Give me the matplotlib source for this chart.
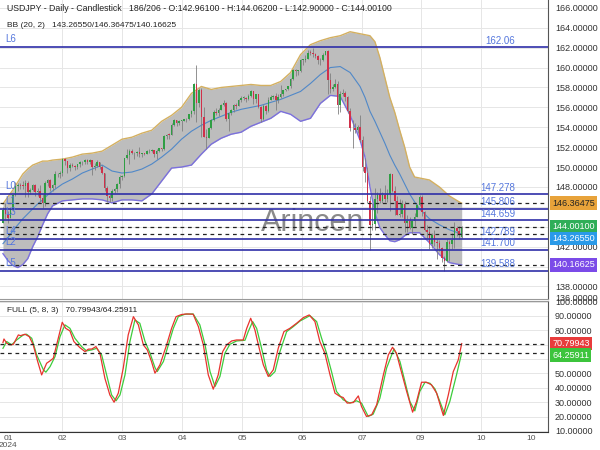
import matplotlib
matplotlib.use('Agg')
import matplotlib.pyplot as plt
from matplotlib.ticker import FuncFormatter

plt.rcParams['font.family'] = ['Liberation Sans', 'DejaVu Sans']

# daily candles, bar 0 is the first one on the chart
opens = [144.38, 145.73, 145.29, 144.91, 145.78, 147.18, 148.14, 148.15, 148.13, 148.11,
         148.37, 147.50, 147.67, 148.15, 147.46, 147.58, 146.92, 146.42, 148.37, 148.70,
         147.94, 148.18, 149.31, 149.28, 149.37, 150.80, 150.58, 149.93, 150.22, 150.12,
         150.02, 150.30, 150.50, 150.48, 150.67, 150.50, 150.68, 149.97, 150.10, 150.52,
         149.96, 149.38, 147.90, 147.06, 146.93, 147.64, 147.75, 148.33, 149.04, 149.14,
         150.87, 151.26, 151.62, 151.43, 151.40, 151.55, 151.33, 151.37, 151.35, 151.65,
         151.57, 151.69, 151.35, 151.62, 151.87, 151.77, 153.17, 153.27, 153.23, 154.23,
         154.69, 154.38, 154.63, 154.64, 154.83, 154.84, 155.34, 155.62, 158.33, 156.42,
         157.79, 155.02, 153.04, 152.95, 153.88, 154.69, 155.56, 155.48, 155.78, 156.21,
         156.44, 154.88, 155.40, 155.69, 156.28, 156.18, 156.78, 156.97, 156.98, 156.86,
         157.16, 157.62, 156.83, 157.30, 156.08, 154.81, 156.11, 155.62, 156.77, 157.03,
         157.12, 156.69, 157.03, 157.37, 157.72, 157.87, 158.10, 158.88, 159.78, 159.69,
         159.69, 160.78, 160.79, 160.88, 161.49, 161.47, 161.41, 161.20, 160.74, 160.81,
         161.29, 161.63, 158.80, 157.85, 158.06, 158.35, 156.20, 157.38, 157.47, 157.03,
         155.61, 153.90, 153.92, 153.77, 153.99, 152.71, 149.97, 149.38, 146.54, 144.19,
         144.31, 146.75, 147.27, 146.59, 147.19, 146.82, 147.31, 149.29, 147.63, 146.57,
         145.22, 145.27, 146.28, 144.38, 144.53, 143.90, 144.61, 144.98, 146.17, 146.95,
         145.46, 143.72, 143.43, 142.30, 143.13, 142.45, 142.37, 141.83, 140.84, 140.60,
         142.43, 142.29, 142.62, 143.88, 143.61, 142.961]
highs = [145.98, 146.41, 145.58, 146.00, 147.30, 148.48, 148.43, 148.40, 148.64, 148.70,
         148.58, 147.86, 148.27, 148.29, 147.88, 148.20, 147.26, 148.58, 148.81, 148.80,
         148.31, 149.57, 149.45, 149.61, 150.89, 150.88, 150.62, 150.40, 150.37, 150.19,
         150.35, 150.65, 150.63, 150.80, 150.85, 150.84, 150.73, 150.43, 150.68, 150.55,
         150.22, 149.44, 148.08, 147.28, 147.80, 147.90, 148.44, 149.16, 149.20, 150.94,
         151.80, 151.86, 151.86, 151.54, 151.57, 151.97, 151.43, 151.44, 151.74, 151.77,
         151.80, 151.75, 151.78, 151.93, 151.94, 153.24, 153.32, 153.39, 154.44, 154.79,
         154.76, 154.71, 154.73, 154.86, 154.89, 155.37, 155.74, 158.44, 160.21, 157.99,
         157.99, 155.99, 153.86, 154.00, 154.80, 155.71, 155.95, 155.93, 156.30, 156.78,
         156.54, 155.48, 155.80, 156.38, 156.42, 156.84, 157.19, 157.19, 157.00, 157.30,
         157.71, 157.66, 157.35, 157.30, 156.16, 156.38, 156.23, 157.00, 157.23, 157.21,
         157.47, 157.30, 158.26, 157.75, 157.89, 158.15, 158.94, 159.87, 159.90, 159.75,
         160.87, 160.87, 161.27, 161.72, 161.74, 161.95, 161.46, 161.29, 160.97, 161.44,
         161.70, 161.76, 159.45, 158.39, 158.86, 158.61, 157.69, 157.87, 157.64, 157.17,
         155.89, 154.72, 154.45, 154.20, 155.22, 153.09, 150.89, 149.96, 147.10, 146.43,
         147.90, 147.47, 147.85, 147.51, 148.22, 147.84, 149.39, 149.30, 148.13, 147.07,
         146.82, 146.66, 146.58, 145.22, 144.97, 144.64, 145.35, 146.24, 147.21, 147.15,
         145.60, 144.20, 144.03, 143.38, 143.65, 142.76, 142.67, 141.93, 141.10, 142.73,
         142.70, 143.38, 144.48, 144.10, 144.11, 144.062]
lows = [144.34, 144.82, 144.35, 144.91, 145.60, 147.05, 147.64, 147.80, 147.76, 146.97,
        146.96, 147.25, 147.57, 147.11, 147.11, 146.53, 145.90, 146.10, 148.05, 147.64,
        147.62, 147.92, 148.97, 148.90, 149.10, 150.25, 149.43, 149.58, 149.98, 149.68,
        149.81, 150.05, 150.22, 150.30, 150.35, 150.32, 149.21, 149.71, 150.00, 149.78,
        149.30, 147.60, 146.48, 146.49, 146.60, 147.40, 147.53, 147.94, 148.70, 149.00,
        150.76, 150.26, 151.30, 150.80, 151.13, 151.03, 151.02, 151.24, 151.30, 151.43,
        151.48, 151.02, 150.81, 151.56, 151.60, 151.70, 152.78, 152.87, 153.20, 154.09,
        154.09, 154.26, 153.59, 154.59, 154.54, 154.78, 155.06, 155.38, 154.55, 156.00,
        153.05, 153.04, 151.86, 152.90, 153.80, 154.62, 155.23, 155.18, 155.70, 156.10,
        154.66, 153.60, 155.20, 155.55, 155.85, 156.10, 156.55, 156.72, 156.58, 156.75,
        157.00, 156.37, 156.40, 155.92, 154.54, 154.76, 155.38, 155.53, 156.71, 156.88,
        155.72, 156.40, 156.95, 157.12, 157.60, 157.78, 157.95, 158.80, 159.20, 159.29,
        159.56, 160.29, 160.56, 160.84, 161.25, 161.07, 160.96, 160.35, 160.25, 160.65,
        161.27, 157.39, 157.44, 157.60, 157.95, 155.37, 155.58, 157.11, 156.65, 155.44,
        153.60, 151.94, 153.41, 153.40, 152.50, 149.64, 148.51, 146.43, 141.70, 143.64,
        143.72, 145.38, 146.37, 146.41, 146.53, 146.49, 145.56, 147.45, 145.19, 145.16,
        144.96, 144.94, 143.44, 143.45, 143.75, 143.28, 144.06, 144.95, 146.04, 145.13,
        143.62, 142.86, 141.77, 141.87, 142.10, 140.71, 141.57, 140.41, 139.58, 140.50,
        140.51, 141.76, 141.87, 143.05, 142.80, 142.900]
closes = [145.73, 145.29, 144.91, 145.78, 147.18, 148.14, 148.15, 148.13, 148.11, 148.37,
          147.50, 147.67, 148.15, 147.46, 147.58, 146.92, 146.42, 148.37, 148.70, 147.94,
          148.18, 149.31, 149.28, 149.37, 150.80, 150.58, 149.93, 150.22, 150.12, 150.02,
          150.30, 150.50, 150.48, 150.67, 150.50, 150.68, 149.97, 150.10, 150.52, 149.96,
          149.38, 147.90, 147.06, 146.93, 147.64, 147.75, 148.33, 149.04, 149.14, 150.87,
          151.26, 151.62, 151.43, 151.40, 151.55, 151.33, 151.37, 151.35, 151.65, 151.57,
          151.69, 151.35, 151.62, 151.87, 151.77, 153.17, 153.27, 153.23, 154.23, 154.69,
          154.38, 154.63, 154.64, 154.83, 154.84, 155.34, 155.62, 158.33, 156.42, 157.79,
          155.02, 153.04, 152.95, 153.88, 154.69, 155.56, 155.48, 155.78, 156.21, 156.44,
          154.88, 155.40, 155.69, 156.28, 156.18, 156.78, 156.97, 156.98, 156.86, 157.16,
          157.62, 156.83, 157.30, 156.08, 154.81, 156.11, 155.62, 156.77, 157.03, 157.12,
          156.69, 157.03, 157.37, 157.72, 157.87, 158.10, 158.88, 159.78, 159.69, 159.69,
          160.78, 160.79, 160.88, 161.49, 161.47, 161.41, 161.20, 160.74, 160.81, 161.29,
          161.63, 158.80, 157.85, 158.06, 158.35, 156.20, 157.38, 157.47, 157.03, 155.61,
          153.90, 153.92, 153.77, 153.99, 152.71, 149.97, 149.38, 146.54, 144.19, 144.31,
          146.75, 147.27, 146.59, 147.19, 146.82, 147.31, 149.29, 147.63, 146.57, 145.22,
          145.27, 146.28, 144.38, 144.53, 143.90, 144.61, 144.98, 146.17, 146.95, 145.46,
          143.72, 143.43, 142.30, 143.13, 142.45, 142.37, 141.83, 140.84, 140.60, 142.43,
          142.29, 142.62, 143.88, 143.61, 143.22, 144.001]

# Bollinger band (20, 2) at these bars
band_idx = [0, 2, 4, 6, 8, 10, 12, 14, 16, 18, 20, 24, 28, 32, 36, 40, 44, 48, 52, 56,
            60, 64, 68, 72, 76, 80, 84, 88, 92, 96, 100, 104, 108, 112, 116, 120, 124, 128, 132, 136,
            140, 144, 146, 148, 150, 152, 154, 156, 158, 160, 162, 164, 166, 168, 172, 176, 180, 184, 185]
bb_upper = [146.3, 147.0, 147.7, 148.5, 149.3, 149.8, 150.2, 150.4, 150.6, 150.6,
            150.7, 150.8, 151.0, 151.3, 151.4, 151.6, 152.2, 152.8, 153.0, 153.4,
            153.7, 154.6, 155.2, 156.0, 157.4, 158.1, 157.8, 158.0, 158.1, 158.2,
            158.3, 158.2, 158.2, 158.6, 159.5, 161.3, 162.3, 162.7, 163.0, 163.2,
            163.6, 163.4, 163.3, 163.2, 162.6, 161.0, 159.0, 157.0, 155.5, 153.7,
            152.0, 150.0, 149.0, 148.9, 148.7, 148.0, 147.1, 146.5, 146.36475]
bb_mid = [142.3, 142.9, 143.6, 144.2, 144.8, 145.3, 145.8, 146.3, 146.7, 147.2,
          147.6, 148.3, 148.8, 149.4, 149.8, 150.2, 149.6, 149.4, 149.5, 149.8,
          150.3, 151.0, 151.8, 152.8, 153.6, 154.2, 154.7, 155.1, 155.5, 155.8,
          156.0, 156.2, 156.5, 156.8, 157.2, 157.6, 158.4, 159.3, 160.0, 160.1,
          159.5, 158.1, 157.0, 155.6, 154.6, 153.5, 152.4, 151.2, 150.2, 149.3,
          148.3, 147.3, 146.5, 145.8, 144.8, 144.2, 143.7, 143.35, 143.2655]
bb_lower = [141.3, 140.6, 140.1, 139.9, 140.2, 140.8, 142.0, 143.0, 144.2, 145.3,
            146.1, 146.6, 146.7, 146.8, 146.8, 146.7, 146.4, 146.7, 146.7, 146.6,
            147.3, 148.6, 149.9, 150.0, 150.2, 151.3, 152.3, 152.9, 153.3, 153.5,
            154.1, 154.5, 154.9, 155.6, 155.3, 154.6, 154.9, 156.4, 157.2, 157.1,
            155.2, 152.7, 151.0, 148.0, 145.4, 143.9, 143.2, 142.6, 142.5, 142.7,
            143.1, 143.4, 143.4, 143.4, 142.4, 141.2, 140.4, 140.2, 140.16625]

# full stochastic (5, 8, 3)
k_idx = [0, 0.4, 1.5, 2.8, 4.2, 6.2, 7.1, 8.9, 10.6, 12.2, 14, 15.6, 17.6, 19, 20.3,
         22.3, 23.9, 25.3, 27, 28.6, 31, 33.1, 34.4, 35.8, 37.5, 39.1, 41.1, 43.1, 44.8, 46.5,
         48.5, 50.5, 52.6, 54.6, 56.6, 58.2, 59.9, 61.3, 63.3, 66, 68, 69.8, 72, 74.1, 76.7,
         78.8, 80.8, 82.8, 84.8, 86.8, 88.6, 90.2, 92.2, 94.2, 96.9, 98.3, 99.9, 101.6, 103, 105,
         107, 109, 111, 113.3, 115.7, 118.4, 121.1, 123.5, 125.8, 127.8, 129.8, 131.9, 133.9, 135.9, 137.2,
         138.8, 141.3, 143.3, 144.6, 146.6, 148.7, 150.7, 153.4, 155.4, 157.1, 158.7, 160.1, 162.8, 165.2, 166.8,
         168.8, 170.8, 172.8, 174.9, 176.9, 177.6, 179.6, 181.6, 183.6, 185]
k_val = [71.5, 74, 71, 69.9, 70.3, 76.8, 76.3, 77.3, 75.6, 69.9, 58.3, 49, 57.1, 58.8, 60.6,
         74.5, 85.6, 81.4, 79.6, 72.2, 68, 65.2, 66.9, 67, 68.7, 64.1, 46.7, 35.1, 30, 36.3,
         53.7, 76.8, 89.5, 83.8, 69.9, 66.4, 58.3, 50.2, 56, 69.9, 81.4, 89.5, 91, 91.4, 91.2,
         82.6, 69.9, 49, 39.1, 49, 65.2, 69.9, 72.6, 73.3, 73.3, 81.4, 88.4, 80.3, 69.9, 56,
         47.9, 52.5, 67.5, 79.1, 81.4, 84.9, 88.8, 90.7, 86.1, 72.2, 64.1, 49, 36.3, 34, 33.3,
         29.4, 29.8, 34.4, 27, 20.1, 21.3, 28.2, 49, 62.9, 68.2, 64.1, 54.8, 37.5, 23.1, 30.5,
         43.9, 43.9, 42.1, 36.3, 24.7, 20.8, 35.1, 51.3, 59.4, 70.79943]
d_idx = [0, 1.5, 3.5, 5.5, 8.2, 9.5, 11.6, 13.6, 16.3, 17.3, 19, 21, 23, 25, 27,
         29, 31.7, 33.7, 35.8, 37.8, 39.8, 41.8, 43.8, 45.6, 47.2, 49.2, 51.2, 53.2, 55.2, 57.3,
         59.3, 61.3, 62.2, 64.7, 66.7, 68.7, 70.7, 73.4, 76.7, 79.4, 81.5, 83.5, 85.5, 87.5, 89.5,
         91.5, 94.2, 97.6, 98.9, 100.7, 102.3, 104.3, 106.3, 107.7, 109.7, 111.7, 114.4, 117.1, 119.8, 123.8,
         126.5, 128.5, 130.5, 132.5, 134.5, 137.2, 139.9, 142.6, 144.6, 147.3, 149.3, 152, 154.7, 157.7, 160.1,
         162.1, 164.1, 166.1, 168.1, 170.2, 172.2, 174.2, 176.2, 178.2, 180.2, 182.9, 185]
d_val = [67.5, 72.2, 69.9, 73.3, 76.8, 77.3, 74.5, 62.9, 52.5, 50.9, 54.8, 61.8, 75.6, 83.8, 81.4,
         74.5, 68.7, 65.7, 66.4, 67.5, 62.9, 49, 35.1, 31, 35.1, 49, 72.2, 87.2, 84.9, 72.2,
         64.1, 54.1, 51.3, 58.3, 69.9, 81.4, 89.5, 91.2, 91.4, 83.8, 69.9, 51.3, 40.9, 47.9, 64.1,
         70.3, 72.6, 73.1, 79.1, 86.1, 81.4, 67.5, 52.5, 47.9, 51.3, 65.2, 79.1, 82.6, 86.5, 90.2,
         86.1, 74.5, 64.1, 51.3, 37.5, 31.7, 29.4, 31, 29.4, 20.1, 21.7, 32.8, 53.7, 67.1, 58.3,
         44.4, 30.5, 24, 37.5, 43.9, 43.2, 39.3, 30.5, 21.3, 30.5, 49, 64.25911]

# support / resistance levels
levels = [162.06, 147.278, 145.806, 144.659, 142.789, 141.700, 139.588]
level_names = ['L6', 'L0', 'L1', 'L3', 'L4', 'L2', 'L5']
level_texts = ['162.06', '147.278', '145.806', '144.659', '142.789', '141.700', '139.588']

month_pos = [2, 23.8, 48, 72.2, 96.4, 120.6, 144.8, 168.5, 192.7, 213]
month_labels = ['01\n2024', '02', '03', '04', '05', '06', '07', '09', '10', '10']

GREEN = '#2f9e44'
RED = '#d0304a'
GRID = '#e6e6e6'


def scale_fmt(tag_values, gap):
    # price scale hides the round labels sitting under a value tag
    def f(v, pos):
        if any(abs(v - t) < gap for t in tag_values):
            return ''
        return '%.5f' % v
    return FuncFormatter(f)


fig = plt.figure(figsize=(6, 4.5), dpi=100)
ax = fig.add_axes([0, 151 / 450, 548 / 600, 299 / 450])
ax2 = fig.add_axes([0, 18 / 450, 548 / 600, 131 / 450])

for a in (ax, ax2):
    a.set_xlim(-1.2, 219.8)
    a.set_axisbelow(True)
    a.yaxis.tick_right()
    a.tick_params(axis='y', length=0, pad=5, labelsize=6.5, colors='#333333')
    a.grid(axis='y', color=GRID, lw=0.7)
    for p in month_pos[1:-1]:
        a.axvline(p, color=GRID, lw=0.7, zorder=0)
    a.spines['left'].set_visible(False)
    a.spines['right'].set_color('#555555')

# ---- price panel
ax.set_ylim(136.74, 166.79)
ax.set_yticks(range(138, 167, 2))
ax.yaxis.set_major_formatter(scale_fmt([bb_upper[-1], closes[-1], bb_lower[-1]], 0.6))
ax.tick_params(axis='x', length=0, labelbottom=False)
ax.spines['top'].set_visible(False)
ax.spines['bottom'].set_color('#999999')
ax.annotate('136.00000', xy=(1, 0), xycoords='axes fraction', xytext=(5, 0.5),
            textcoords='offset points', va='center', fontsize=6.5, color='#333333')

ax.fill_between(band_idx, bb_lower, bb_upper, color='#bdbdbd', lw=0, zorder=1)
ax.plot(band_idx, bb_upper, color='#d4b060', lw=1.0, zorder=2)
ax.plot(band_idx, bb_lower, color='#7b70dd', lw=1.0, zorder=2)
ax.plot(band_idx, bb_mid, color='#5088c8', lw=0.8, zorder=2)

ax.text(0.571, 0.254, 'Arincen', transform=ax.transAxes, fontsize=22,
        color='#8a8a8a', ha='center', va='center', zorder=1.5)

xs = list(range(len(closes)))
cols = [GREEN if c >= o else RED for o, c in zip(opens, closes)]
ax.vlines(xs, lows, highs, color='#808080', lw=0.6, zorder=3)
ax.bar(xs, [max(abs(c - o), 0.05) for o, c in zip(opens, closes)],
       bottom=[min(o, c) for o, c in zip(opens, closes)],
       width=0.62, color=cols, lw=0, zorder=4)

for v, name, txt in zip(levels, level_names, level_texts):
    ax.axhline(v, color='#2f2fa8', lw=1.2, zorder=6)
    ax.annotate(name, xy=(0.009, v), xycoords=('axes fraction', 'data'), xytext=(0, 5.8),
                textcoords='offset points', ha='left', va='center', fontsize=7, color='#5577dd', zorder=7)
    ax.annotate(txt, xy=(0.94, v), xycoords=('axes fraction', 'data'), xytext=(0, 4.7),
                textcoords='offset points', ha='right', va='center', fontsize=7, color='#5577dd', zorder=7)

# last values: band top, close, band middle, band bottom (the middle tag is nudged down)
tags = [(bb_upper[-1], '#e8a33a', '#222222', 0), (closes[-1], '#2fae58', 'white', 0),
        (bb_mid[-1], '#2a9ae8', 'white', -3.2), (bb_lower[-1], '#7b4be8', 'white', 0)]
for v, fc, tc, dy in tags:
    ax.axhline(v, color='#222222', lw=0.9, ls=(0, (3, 3)), zorder=6)
    ax.annotate('%.5f' % v, xy=(1, v), xycoords=('axes fraction', 'data'), xytext=(3, dy),
                textcoords='offset points', va='center', ha='left', fontsize=6.5, color=tc,
                bbox=dict(boxstyle='square,pad=0.25', fc=fc, ec='none'), annotation_clip=False, zorder=8)

ax.text(0.0128, 0.97, 'USDJPY - Daily - Candlestick   186/206 - O:%.5f - H:%.5f - L:%.5f - C:%.5f'
        % (opens[-1], highs[-1], lows[-1], closes[-1]),
        transform=ax.transAxes, fontsize=6.3, color='#222222', va='center')
ax.text(0.0128, 0.916, 'BB (20, 2)   %.5f/%.5f/%.5f' % (bb_mid[-1], bb_upper[-1], bb_lower[-1]),
        transform=ax.transAxes, fontsize=6, color='#222222', va='center')

# ---- stochastic panel
ax2.set_ylim(9.3, 100.4)
ax2.set_yticks(range(10, 101, 10))
ax2.yaxis.set_major_formatter(scale_fmt([k_val[-1], d_val[-1]], 6))
ax2.set_xticks(month_pos)
ax2.set_xticklabels(month_labels)
ax2.tick_params(axis='x', length=0, pad=2.2, labelsize=6, colors='#555555')
for lbl in ax2.get_xticklabels():
    lbl.set_linespacing(0.9)
ax2.spines['top'].set_color('#999999')
ax2.spines['bottom'].set_color('#333333')

ax2.plot(d_idx, d_val, color='#3ccc3c', lw=0.9, zorder=3)
ax2.plot(k_idx, k_val, color='#e8332e', lw=0.9, zorder=4)
for v, fc, dy in [(k_val[-1], '#e83c3c', 0), (d_val[-1], '#3cc43c', -1.5)]:
    ax2.axhline(v, color='#222222', lw=0.9, ls=(0, (3, 3)), zorder=5)
    ax2.annotate('%.5f' % v, xy=(1, v), xycoords=('axes fraction', 'data'), xytext=(3, dy),
                 textcoords='offset points', va='center', ha='left', fontsize=6.5, color='white',
                 bbox=dict(boxstyle='square,pad=0.25', fc=fc, ec='none'), annotation_clip=False, zorder=8)
ax2.text(0.0128, 0.924, 'FULL (5, 8, 3)   %.5f/%.5f' % (k_val[-1], d_val[-1]),
         transform=ax2.transAxes, fontsize=6, color='#222222', va='center')

fig.savefig('out.png', dpi=100)
